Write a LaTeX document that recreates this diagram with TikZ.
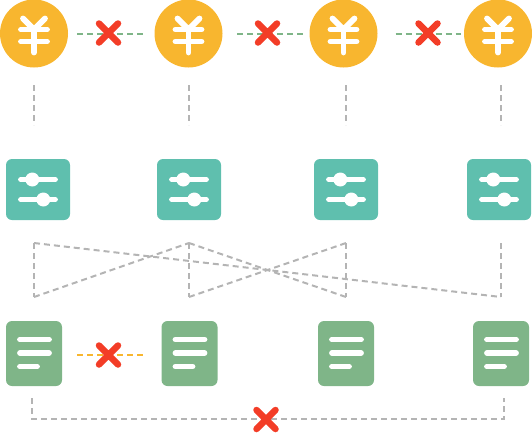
\documentclass[tikz,border=0pt]{standalone}
\usepackage{tikz}
\usetikzlibrary{calc,shapes.misc,positioning}

\definecolor{coinyellow}{HTML}{F8B62F}
\definecolor{sliderteal}{HTML}{5FBFAE}
\definecolor{docgreen}{HTML}{7FB588}
\definecolor{crossred}{HTML}{F33D27}
\definecolor{linegray}{HTML}{B4B4B4}

\begin{document}
\begin{tikzpicture}[x=1pt,y=-1pt]

\tikzset{
  coinnode/.style={circle, fill=coinyellow, minimum size=68pt, inner sep=0pt, outer sep=0pt},
  slidernode/.style={rectangle, rounded corners=6pt, fill=sliderteal, minimum width=64pt, minimum height=61pt, inner sep=0pt, outer sep=0pt},
  docnode/.style={rectangle, rounded corners=6pt, fill=docgreen, minimum width=56pt, minimum height=65pt, inner sep=0pt, outer sep=0pt},
  crossnode/.style={cross out, draw=crossred, line width=6.5pt, line cap=round, minimum size=19pt, inner sep=0pt, outer sep=0pt},
  iconline/.style={white, line width=5.8pt, line cap=round, line join=round},
  grayline/.style={linegray, line width=2pt, dash pattern=on 6pt off 4pt},
  greenline/.style={docgreen, line width=2pt, dash pattern=on 6pt off 4pt},
  orangeline/.style={coinyellow, line width=2pt, dash pattern=on 6pt off 4pt}
}

\newcommand{\coinicon}[3]{
  \begin{scope}[shift={(#1,#2)}]
    \node[coinnode] (#3) at (0,0) {};
    \draw[iconline] (-11,-15) -- (0,-4) -- (11,-15);
    \draw[iconline] (-13,-4) -- (13,-4);
    \draw[iconline] (-13,8) -- (13,8);
    \draw[iconline] (0,-4) -- (0,19);
  \end{scope}
}

\newcommand{\slidericon}[3]{
  \begin{scope}[shift={(#1,#2)}]
    \node[slidernode] (#3) at (0,0) {};
    \draw[iconline] (-17,-10) -- (17,-10);
    \draw[iconline] (-17,10) -- (17,10);
    \fill[white] (-5.7,-10) circle (7);
    \fill[white] (5.3,10) circle (7);
  \end{scope}
}

\newcommand{\docicon}[3]{
  \begin{scope}[shift={(#1,#2)}]
    \node[docnode] (#3) at (0,0) {};
    \draw[iconline] (-14,-14) -- (15,-14);
    \draw[iconline] (-14,-0.5) -- (15,-0.5);
    \draw[iconline] (-14,13) -- (3,13);
  \end{scope}
}

\useasboundingbox (0,0) rectangle (532,432);

% Coins
\coinicon{34}{33.5}{coina}
\coinicon{188.5}{33.5}{coinb}
\coinicon{343.5}{33.5}{coinc}
\coinicon{498}{33.5}{coind}

% Sliders
\slidericon{38}{189.5}{slidera}
\slidericon{189}{189.5}{sliderb}
\slidericon{346}{189.5}{sliderc}
\slidericon{499}{189.5}{sliderd}

% Documents
\docicon{34}{353.5}{doca}
\docicon{189.5}{353.5}{docb}
\docicon{346}{353.5}{docc}
\docicon{501}{353.5}{docd}

% Free ends
\coordinate (upa) at (34,85);
\coordinate (upb) at (189,85);
\coordinate (upc) at (346,85);
\coordinate (upd) at (501,85);
\coordinate (loa) at (34,125);
\coordinate (lob) at (189,125);
\coordinate (loc) at (346,125);
\coordinate (lod) at (501,125);

\coordinate (topa) at (34,243);
\coordinate (topb) at (189,243);
\coordinate (topc) at (346,243);
\coordinate (topd) at (501,243);
\coordinate (bota) at (34,297);
\coordinate (botb) at (189,297);
\coordinate (botc) at (346,297);
\coordinate (botd) at (501,297);

\coordinate (leftup) at (32,398);
\coordinate (leftlo) at (32,419);
\coordinate (rightlo) at (504,419);
\coordinate (rightup) at (504,398);

% Coin to coin
\draw[greenline, shorten <=9pt, shorten >=11.5pt] (coina.east) -- (coinb.west);
\draw[greenline, shorten <=14.5pt, shorten >=6.5pt] (coinb.east) -- (coinc.west);
\draw[greenline, shorten <=18pt, shorten >=3pt] (coinc.east) -- (coind.west);

% Coin to slider
\draw[grayline] (upa) -- (loa);
\draw[grayline] (upb) -- (lob);
\draw[grayline] (upc) -- (loc);
\draw[grayline] (upd) -- (lod);

% Slider to document
\draw[grayline] (topa) -- (bota);
\draw[grayline] (topa) -- (botd);
\draw[grayline] (bota) -- (topb);
\draw[grayline] (topb) -- (botb);
\draw[grayline] (topb) -- (botc);
\draw[grayline] (botb) -- (topc);
\draw[grayline] (topc) -- (botc);
\draw[grayline] (topd) -- (botd);

% Document to document
\draw[orangeline, shorten <=15pt, shorten >=19pt] ([yshift=-1.5pt]doca.east) -- ([yshift=-1.5pt]docb.west);
\draw[grayline] (leftup) -- (leftlo) -- (rightlo) -- (rightup);

% Crosses
\node[crossnode] (crossa) at (108.5,33) {};
\node[crossnode] (crossb) at (267.5,33) {};
\node[crossnode] (crossc) at (428,33) {};
\node[crossnode] (crossd) at (108.5,355) {};
\node[crossnode] (crosse) at (266,419.5) {};

\end{tikzpicture}
\end{document}
